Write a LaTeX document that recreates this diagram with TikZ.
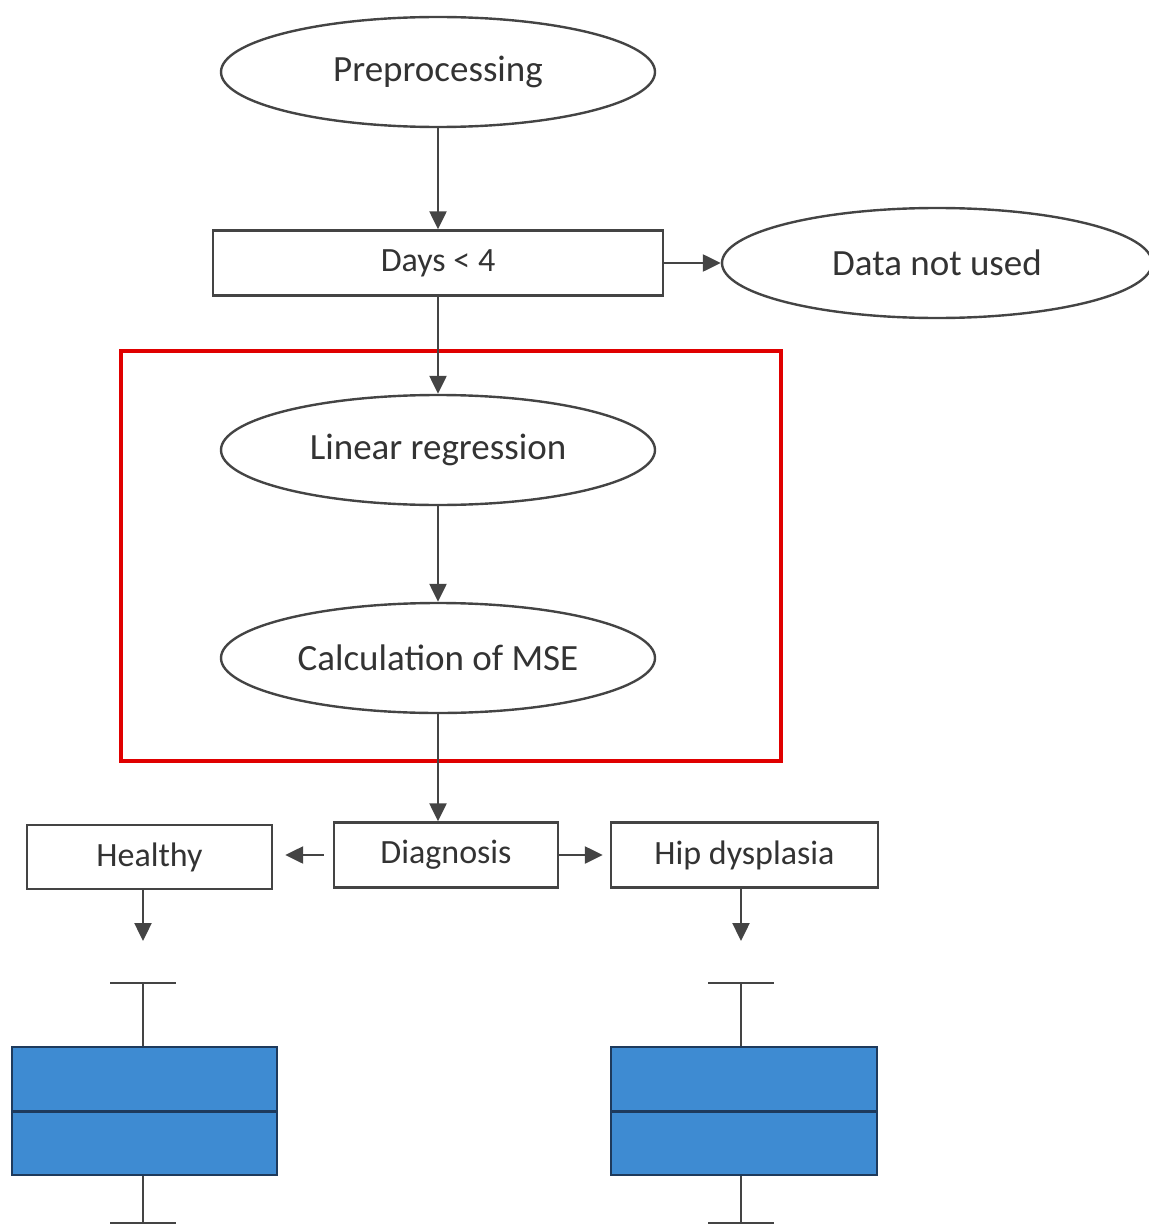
\documentclass[tikz,border=0pt]{standalone}
\usepackage{fontspec}
\setmainfont{Carlito}
\usetikzlibrary{shapes.geometric,arrows.meta,calc}
\definecolor{ln}{HTML}{444444}
\definecolor{tx}{HTML}{333333}
\definecolor{bxfill}{HTML}{3E8BD2}
\definecolor{bxline}{HTML}{1E3A5C}
\definecolor{redbox}{HTML}{E00000}
\tikzset{
  oval/.style={ellipse, draw=ln, line width=2.4pt, text=tx, font=\fontsize{37}{40}\selectfont, inner sep=0pt, minimum width=434pt, minimum height=110pt},
  rbox/.style={rectangle, draw=ln, line width=2.4pt, text=tx, font=\fontsize{34}{38}\selectfont, inner sep=0pt},
  arr/.style={draw=ln, line width=2.4pt, -{Triangle[length=18pt,width=17pt]}},
  plain/.style={draw=ln, line width=2.4pt},
  bplot/.style={draw=bxline, line width=2.6pt, fill=bxfill},
}
\begin{document}
\begin{tikzpicture}[x=1pt,y=-1pt]
\useasboundingbox (0,0) rectangle (1148,1225);
% red frame
\draw[redbox, line width=4.5pt] (121,351) rectangle (781,761);
% nodes
\node[oval] (pre) at (438,72) {Preprocessing};
\node[rbox, minimum width=450pt, minimum height=65pt] (days) at (438,263) {Days < 4};
\node[oval, minimum width=430pt] (dnu) at (937,263) {Data not used};
\node[oval] (lin) at (438,450) {Linear regression};
\node[oval] (mse) at (438,658) {Calculation of MSE};
\node[rbox, minimum width=224pt, minimum height=65pt] (diag) at (446,855) {Diagnosis};
\node[rbox, minimum width=245pt, minimum height=64pt] (hea) at (149.5,857) {Healthy};
\node[rbox, minimum width=267pt, minimum height=65pt] (hip) at (744.5,855) {Hip dysplasia};
% connectors
\draw[arr] (pre.south) -- (days.north -| pre.south);
\draw[arr] (days.east) -- (dnu.west);
\draw[arr] (days.south -| lin.north) -- (lin.north);
\draw[arr] (lin.south) -- (mse.north);
\draw[arr] (mse.south) -- (mse.south |- diag.north);
\draw[arr] ($(diag.west)+(-9,0)$) -- ($(hea.east |- diag.west)+(12,0)$);
\draw[arr] (diag.east) -- ($(hip.west)+(-7,0)$);
\coordinate (hd) at (143,941);
\coordinate (pd) at (741,941);
\draw[arr] (hea.south -| hd) -- (hd);
\draw[arr] (hip.south -| pd) -- (pd);
% box plots
\foreach \c/\l/\r in {143/12/277, 741/611/877}{
  \draw[plain] (\c-33,983) -- (\c+33,983);
  \draw[plain] (\c,983) -- (\c,1047);
  \draw[plain] (\c,1175) -- (\c,1223);
  \draw[plain] (\c-33,1223) -- (\c+33,1223);
  \draw[bplot] (\l,1047) rectangle (\r,1175);
  \draw[draw=bxline, line width=3pt] (\l,1111) -- (\r,1111);
}
\end{tikzpicture}
\end{document}
